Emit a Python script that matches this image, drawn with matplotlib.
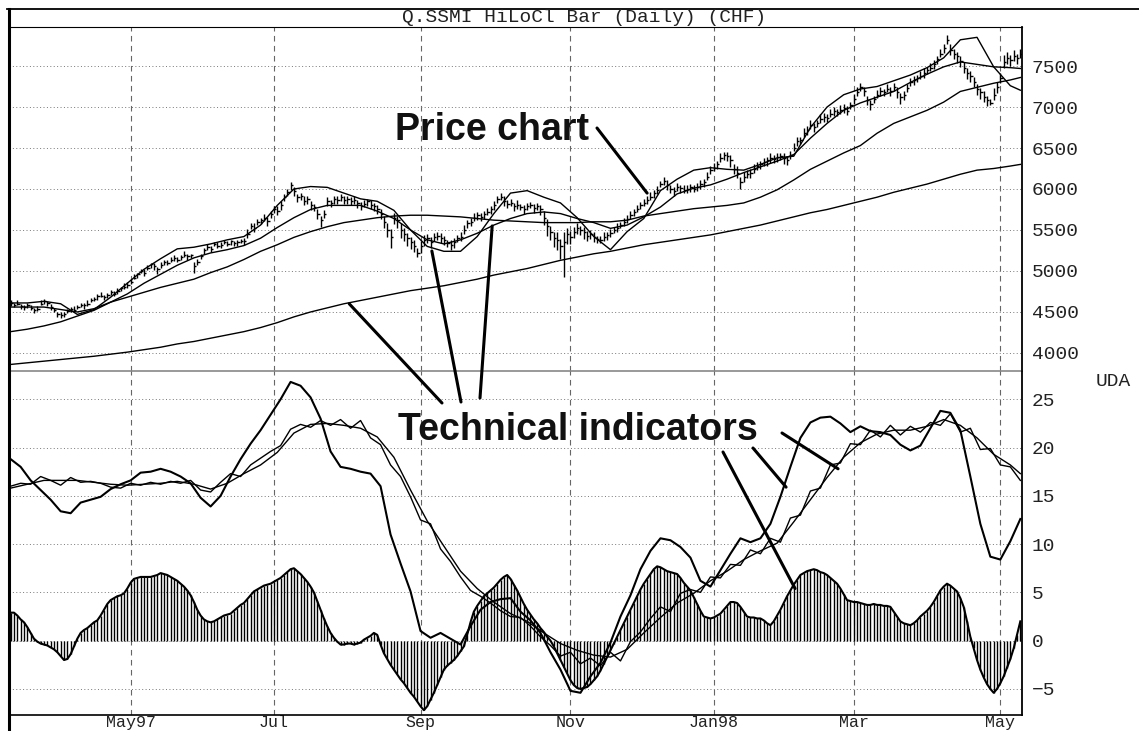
import matplotlib
matplotlib.use('Agg')
import matplotlib.pyplot as plt
from matplotlib.lines import Line2D
from matplotlib.patches import ConnectionPatch
import numpy as np
import pandas as pd

# trading days on the chart
days = pd.bdate_range('1997-03-12', '1998-05-11')
tick_dates = ['1997-05-01', '1997-07-01', '1997-09-01', '1997-11-01',
              '1998-01-01', '1998-03-01', '1998-05-01']
tick_labels = ['May97', 'Jul', 'Sep', 'Nov', 'Jan98', 'Mar', 'May']

# daily close, and distance from close to high / low
close = [4610, 4590, 4600, 4570, 4560, 4580, 4550, 4530, 4540, 4600,
         4630, 4610, 4560, 4520, 4480, 4460, 4470, 4510, 4540, 4530,
         4560, 4590, 4580, 4600, 4640, 4660, 4690, 4700, 4680, 4710,
         4740, 4720, 4760, 4790, 4810, 4830, 4870, 4920, 4960, 5000,
         4980, 5040, 5080, 5060, 5020, 5070, 5110, 5100, 5130, 5160,
         5140, 5170, 5200, 5180, 5190, 5060, 5110, 5180, 5250, 5290,
         5270, 5330, 5310, 5320, 5350, 5330, 5360, 5340, 5350, 5370,
         5360, 5450, 5550, 5530, 5600, 5620, 5650, 5610, 5700, 5750,
         5730, 5800, 5900, 5960, 6050, 5980, 5900, 5920, 5850, 5880,
         5800, 5780, 5700, 5620, 5700, 5850, 5830, 5880, 5860, 5900,
         5870, 5880, 5850, 5870, 5830, 5790, 5820, 5850, 5800, 5790,
         5760, 5700, 5600, 5500, 5420, 5650, 5620, 5500, 5450, 5400,
         5350, 5300, 5220, 5300, 5380, 5400, 5350, 5420, 5430, 5400,
         5380, 5340, 5320, 5350, 5400, 5420, 5500, 5580, 5600, 5650,
         5680, 5660, 5700, 5720, 5750, 5800, 5880, 5900, 5850, 5820,
         5830, 5790, 5800, 5780, 5760, 5790, 5810, 5770, 5790, 5750,
         5650, 5550, 5480, 5400, 5380, 5300, 5350, 5450, 5420, 5480,
         5520, 5500, 5470, 5430, 5450, 5420, 5390, 5380, 5410, 5440,
         5460, 5500, 5530, 5560, 5600, 5640, 5680, 5720, 5760, 5800,
         5830, 5870, 5900, 5950, 5990, 6060, 6100, 6050, 6000, 5980,
         6020, 6010, 5990, 6000, 6020, 6000, 6030, 6060, 6080, 6150,
         6230, 6260, 6300, 6380, 6420, 6400, 6350, 6250, 6200, 6080,
         6150, 6180, 6200, 6250, 6280, 6300, 6330, 6350, 6380, 6370,
         6390, 6400, 6380, 6350, 6420, 6500, 6580, 6600, 6680, 6720,
         6780, 6760, 6800, 6850, 6880, 6870, 6920, 6950, 6940, 6960,
         6990, 6950, 7020, 7100, 7180, 7250, 7200, 7080, 7040, 7100,
         7150, 7200, 7180, 7220, 7200, 7250, 7180, 7120, 7150, 7230,
         7300, 7330, 7350, 7380, 7420, 7450, 7480, 7520, 7580, 7650,
         7720, 7820, 7700, 7650, 7620, 7560, 7480, 7420, 7380, 7300,
         7220, 7180, 7120, 7080, 7050, 7150, 7250, 7350, 7550, 7600,
         7570, 7620, 7600, 7650]
up = [30, 20, 40, 30, 20, 30, 40, 20, 30, 50,
      30, 20, 40, 30, 20, 40, 30, 30, 20, 40,
      30, 20, 30, 40, 30, 20, 30, 40, 30, 20,
      30, 40, 30, 20, 40, 30, 30, 40, 20, 30,
      50, 30, 20, 40, 30, 40, 20, 30, 40, 30,
      30, 20, 40, 30, 20, 50, 40, 30, 30, 40,
      30, 20, 40, 30, 30, 40, 20, 30, 30, 20,
      40, 60, 30, 50, 40, 30, 40, 50, 30, 40,
      60, 50, 40, 40, 40, 50, 40, 30, 60, 40,
      50, 40, 60, 50, 40, 50, 40, 30, 50, 40,
      40, 30, 50, 40, 30, 50, 40, 30, 60, 40,
      50, 60, 70, 80, 90, 60, 50, 80, 70, 60,
      70, 80, 60, 70, 60, 50, 60, 40, 50, 60,
      50, 40, 60, 50, 40, 50, 60, 40, 50, 60,
      40, 50, 30, 50, 40, 50, 40, 50, 60, 40,
      50, 40, 60, 40, 50, 40, 30, 50, 40, 60,
      80, 90, 70, 80, 100, 90, 120, 80, 70, 60,
      60, 50, 70, 60, 50, 60, 40, 50, 60, 40,
      50, 40, 50, 40, 50, 40, 50, 40, 50, 40,
      50, 40, 60, 40, 50, 40, 50, 60, 50, 40,
      50, 40, 60, 50, 40, 50, 40, 50, 40, 60,
      50, 60, 40, 60, 30, 50, 70, 60, 80, 70,
      60, 50, 40, 60, 50, 40, 50, 40, 60, 50,
      50, 40, 60, 50, 40, 60, 50, 40, 60, 50,
      60, 50, 40, 60, 50, 40, 60, 50, 40, 60,
      50, 60, 40, 60, 70, 40, 50, 60, 50, 40,
      60, 50, 40, 60, 50, 40, 60, 50, 40, 50,
      60, 50, 40, 60, 50, 40, 60, 50, 40, 60,
      50, 60, 70, 60, 50, 60, 70, 50, 60, 70,
      60, 50, 70, 60, 50, 80, 60, 70, 80, 70,
      60, 70, 50, 60]
dn = [40, 30, 20, 30, 40, 30, 20, 40, 30, 20,
      30, 40, 30, 20, 40, 30, 30, 20, 40, 30,
      20, 30, 40, 30, 20, 30, 40, 20, 30, 40,
      30, 20, 40, 30, 30, 40, 30, 20, 40, 30,
      40, 30, 40, 50, 60, 30, 40, 30, 20, 40,
      30, 40, 30, 40, 30, 80, 40, 30, 40, 30,
      40, 30, 30, 40, 20, 30, 40, 30, 40, 30,
      40, 50, 40, 60, 40, 50, 40, 60, 50, 40,
      50, 60, 50, 40, 60, 70, 60, 50, 40, 60,
      60, 50, 70, 80, 50, 60, 50, 60, 40, 50,
      50, 60, 40, 50, 60, 50, 40, 60, 50, 60,
      60, 70, 80, 90, 140, 80, 90, 100, 80, 90,
      80, 70, 50, 80, 70, 60, 70, 60, 50, 60,
      60, 50, 60, 70, 50, 60, 50, 60, 50, 40,
      60, 50, 60, 40, 50, 60, 50, 40, 60, 50,
      40, 60, 50, 40, 60, 50, 40, 60, 50, 70,
      90, 120, 100, 110, 130, 150, 420, 120, 90, 80,
      70, 60, 80, 70, 60, 70, 50, 40, 50, 60,
      50, 40, 50, 40, 50, 60, 40, 50, 40, 50,
      40, 50, 40, 60, 50, 40, 50, 60, 50, 70,
      50, 60, 40, 50, 60, 40, 50, 60, 50, 40,
      50, 40, 60, 50, 70, 60, 80, 70, 60, 80,
      60, 50, 70, 60, 50, 60, 50, 70, 60, 50,
      60, 50, 70, 60, 50, 40, 60, 50, 40, 60,
      50, 60, 40, 50, 60, 50, 40, 60, 50, 40,
      60, 50, 40, 60, 50, 60, 70, 60, 80, 50,
      40, 60, 50, 40, 60, 50, 70, 80, 60, 50,
      40, 60, 50, 40, 60, 50, 40, 60, 50, 40,
      60, 50, 70, 60, 80, 70, 60, 80, 70, 60,
      70, 80, 60, 70, 30, 70, 80, 60, 70, 80,
      70, 60, 70, 50]

# price-panel averages, read weekly (every 5th day and the last day)
avg_fast = [4610, 4610, 4630, 4600, 4470, 4530, 4680, 4850, 5020, 5150,
            5270, 5290, 5330, 5380, 5420, 5560, 5800, 6000, 6030, 6020,
            5950, 5880, 5850, 5740, 5500, 5300, 5240, 5240, 5420, 5700,
            5950, 5980, 5900, 5830, 5650, 5420, 5260, 5480, 5640, 5980,
            6120, 6230, 6260, 6240, 6230, 6300, 6380, 6400, 6750, 7000,
            7150, 7220, 7250, 7320, 7390, 7480, 7600, 7820, 7850, 7490,
            7260, 7205]
avg_mid = [4560, 4560, 4560, 4530, 4500, 4540, 4620, 4720, 4850, 4960,
           5070, 5160, 5220, 5260, 5310, 5400, 5530, 5650, 5750, 5800,
           5800, 5800, 5730, 5640, 5500, 5380, 5330, 5380, 5460, 5560,
           5640, 5700, 5720, 5700, 5640, 5590, 5520, 5560, 5660, 5780,
           5940, 6010, 6050, 6120, 6200, 6270, 6340, 6420, 6620, 6800,
           6960, 7050, 7120, 7190, 7300, 7400, 7490, 7550, 7520, 7490,
           7480, 7470]
avg_slow = [4260, 4290, 4330, 4380, 4450, 4520, 4620, 4680, 4740, 4800,
            4850, 4900, 4980, 5050, 5140, 5240, 5320, 5410, 5480, 5540,
            5590, 5620, 5650, 5670, 5680, 5680, 5670, 5660, 5640, 5620,
            5610, 5600, 5590, 5590, 5590, 5600, 5600, 5620, 5670, 5700,
            5730, 5760, 5780, 5800, 5830, 5900, 5990, 6110, 6240, 6340,
            6440, 6530, 6680, 6800, 6880, 6960, 7060, 7190, 7240, 7290,
            7330, 7360]
avg_long = [3860, 3880, 3900, 3920, 3940, 3960, 3985, 4010, 4040, 4070,
            4110, 4140, 4180, 4220, 4260, 4310, 4370, 4440, 4500, 4550,
            4600, 4640, 4680, 4720, 4760, 4790, 4820, 4860, 4900, 4950,
            4990, 5030, 5080, 5130, 5170, 5210, 5240, 5280, 5320, 5350,
            5380, 5410, 5440, 5480, 5520, 5560, 5610, 5660, 5710, 5750,
            5800, 5850, 5900, 5960, 6010, 6060, 6120, 6180, 6230, 6250,
            6280, 6300]

# UDA panel: fast line and jagged line read every 3rd day, signal weekly
uda_fast = [18.8, 18.0, 16.6, 15.6, 14.6, 13.4, 13.2, 14.3, 14.6, 14.9,
            15.7, 16.2, 16.6, 17.4, 17.5, 17.8, 17.5, 17.0, 16.3, 14.8,
            13.9, 15.0, 17.0, 18.8, 20.4, 21.8, 23.4, 25.0, 26.8, 26.4,
            25.2, 23.0, 19.6, 18.0, 17.8, 17.5, 17.3, 16.0, 11.0, 8.0,
            5.1, 1.0, 0.3, 0.8, 0.2, -0.4, 1.5, 3.2, 4.0, 4.3,
            4.4, 3.0, 2.1, 0.8, -1.2, -3.0, -5.2, -5.4, -3.7, -2.3,
            -0.2, 2.5, 4.7, 7.4, 9.3, 10.6, 10.4, 9.7, 8.6, 6.2,
            5.6, 7.3, 9.0, 10.6, 10.2, 10.6, 12.1, 14.9, 18.0, 21.0,
            22.6, 23.1, 23.2, 22.5, 21.6, 22.2, 21.7, 21.6, 21.3, 20.3,
            19.7, 20.2, 22.0, 23.8, 23.6, 21.8, 17.0, 12.1, 8.7, 8.4,
            10.3, 12.6]
uda_signal = [15.8, 16.2, 16.6, 16.6, 16.6, 16.4, 16.2, 16.1, 16.2, 16.3,
              16.5, 16.2, 15.7, 16.3, 17.3, 18.2, 19.5, 21.5, 22.4, 22.5,
              22.3, 22.0, 21.1, 19.0, 15.6, 12.4, 9.8, 7.2, 5.4, 4.0,
              2.8, 2.0, 0.8, -0.3, -1.0, -1.5, -1.7, -0.9, 0.8, 2.4,
              3.9, 4.9, 6.2, 7.2, 8.4, 9.3, 10.1, 12.3, 14.6, 16.9,
              19.0, 20.5, 21.4, 21.8, 21.8, 22.2, 22.9, 22.3, 21.0, 19.3,
              18.2, 17.3]
uda_raw = [16.0, 16.3, 16.2, 17.0, 16.6, 16.1, 16.9, 16.4, 16.5, 16.3,
           15.9, 15.8, 16.3, 16.1, 16.4, 16.2, 16.5, 16.3, 16.6, 15.6,
           15.4, 16.4, 17.3, 17.0, 18.2, 18.9, 19.6, 20.2, 21.9, 22.4,
           22.1, 22.8, 22.3, 22.9, 22.0, 22.8, 21.0, 20.3, 18.2, 17.0,
           14.9, 12.5, 12.1, 9.5, 8.2, 6.6, 5.2, 4.6, 3.9, 3.1,
           2.5, 2.4, 1.5, 0.4, -0.5, -1.6, -1.2, -2.4, -1.8, -2.6,
           -1.2, -2.1, -0.1, 0.9, 2.3, 3.5, 3.0, 4.9, 5.3, 5.0,
           6.6, 6.5, 7.9, 7.8, 9.4, 9.0, 10.6, 10.2, 12.7, 13.0,
           15.5, 15.8, 18.2, 18.4, 20.4, 20.3, 21.8, 21.1, 22.3, 21.3,
           22.2, 21.6, 22.6, 22.3, 23.5, 21.6, 22.0, 19.8, 19.9, 18.2,
           18.0, 16.6]
# daily histogram
uda_hist = [2.9, 2.9, 2.6, 2.2, 1.9, 1.4, 0.8, 0.2, -0.1, -0.3,
            -0.4, -0.5, -0.7, -0.9, -1.2, -1.6, -2.0, -1.9, -1.4, -0.6,
            0.2, 0.8, 1.1, 1.3, 1.6, 1.9, 2.1, 2.6, 3.2, 3.8,
            4.2, 4.4, 4.6, 4.7, 4.9, 5.4, 6.0, 6.4, 6.5, 6.6,
            6.6, 6.6, 6.6, 6.7, 6.8, 7.0, 6.9, 6.8, 6.6, 6.4,
            6.2, 5.9, 5.6, 5.2, 4.7, 4.0, 3.2, 2.6, 2.2, 2.0,
            1.9, 2.0, 2.2, 2.4, 2.6, 2.7, 2.8, 3.1, 3.4, 3.7,
            3.9, 4.3, 4.7, 5.1, 5.3, 5.5, 5.7, 5.8, 5.9, 6.1,
            6.3, 6.5, 6.8, 7.1, 7.4, 7.5, 7.2, 6.9, 6.5, 6.1,
            5.6, 5.0, 4.1, 3.2, 2.3, 1.5, 0.8, 0.3, -0.1, -0.4,
            -0.4, -0.3, -0.3, -0.4, -0.3, -0.2, 0.1, 0.3, 0.5, 0.8,
            0.6, -0.4, -1.3, -1.9, -2.5, -3.0, -3.5, -4.0, -4.4, -4.9,
            -5.4, -5.8, -6.3, -6.8, -7.2, -6.8, -6.1, -5.4, -4.6, -3.8,
            -3.0, -2.6, -2.3, -2.0, -1.6, -1.1, -0.6, 0.6, 1.9, 3.0,
            3.6, 4.1, 4.6, 4.9, 5.2, 5.5, 5.9, 6.3, 6.6, 6.8,
            6.4, 5.8, 5.2, 4.5, 3.8, 3.2, 2.7, 2.2, 1.8, 1.3,
            0.9, 0.4, 0.0, -0.6, -1.3, -2.0, -2.7, -3.4, -4.1, -4.6,
            -4.9, -5.0, -4.9, -4.8, -4.5, -4.1, -3.7, -3.1, -2.4, -1.7,
            -1.0, -0.3, 0.4, 1.1, 1.8, 2.5, 3.2, 3.9, 4.6, 5.3,
            5.9, 6.4, 6.9, 7.4, 7.7, 7.6, 7.4, 7.2, 7.1, 7.0,
            6.9, 6.5, 6.0, 5.6, 5.2, 4.5, 3.8, 3.1, 2.5, 2.4,
            2.3, 2.4, 2.6, 2.8, 3.2, 3.6, 4.0, 4.0, 3.9, 3.5,
            3.0, 2.5, 2.4, 2.4, 2.3, 2.3, 2.1, 1.8, 1.6, 2.0,
            2.6, 3.2, 3.9, 4.6, 5.2, 5.8, 6.3, 6.8, 7.0, 7.2,
            7.3, 7.4, 7.3, 7.1, 7.0, 6.8, 6.5, 6.2, 5.9, 5.4,
            4.8, 4.2, 4.1, 4.0, 4.0, 3.9, 3.8, 3.7, 3.7, 3.8,
            3.7, 3.7, 3.6, 3.6, 3.5, 3.0, 2.5, 2.0, 1.8, 1.7,
            1.6, 1.8, 2.1, 2.5, 2.8, 3.1, 3.5, 4.0, 4.6, 5.2,
            5.6, 5.9, 5.7, 5.4, 5.1, 4.4, 3.5, 2.0, 0.4, -0.8,
            -2.0, -3.0, -3.8, -4.5, -5.0, -5.4, -5.0, -4.4, -3.7, -2.8,
            -1.9, -0.8, 0.6, 2.0]

price_ticks = [4000, 4500, 5000, 5500, 6000, 6500, 7000, 7500]
uda_ticks = [-5, 0, 5, 10, 15, 20, 25]

n = len(close)
x = np.arange(n)
week_x = list(range(0, n - 3, 5)) + [n - 1]
step3_x = list(range(0, n, 3))
hi = np.array(close) + np.array(up)
lo = np.array(close) - np.array(dn)
tick_pos = days.searchsorted(pd.to_datetime(tick_dates))

W, H = 1139, 731
fig = plt.figure(figsize=(W / 100, H / 100), dpi=100)


def fx(px):
    return px / W


def fy(py):
    return 1 - py / H


mono = ['Liberation Mono', 'DejaVu Sans Mono']
ax1 = fig.add_axes([fx(9), fy(371), fx(1022) - fx(9), fy(27) - fy(371)])
ax2 = fig.add_axes([fx(9), fy(715), fx(1022) - fx(9), fy(371) - fy(715)])

for ax in (ax1, ax2):
    ax.patch.set_visible(False)
    ax.set_xlim(-0.5, n - 0.5)
    ax.set_xticks(tick_pos)
    ax.yaxis.tick_right()
    ax.tick_params(length=0, labelsize=14, colors='#222', pad=7)
    ax.grid(axis='y', color='#777', lw=0.7, ls=(0, (1, 2.5)))
    ax.grid(axis='x', color='#666', lw=0.8, ls=(0, (5, 4)))
    ax.spines['left'].set_visible(False)
    ax.spines['right'].set_linewidth(1.3)
    ax.set_axisbelow(True)

ax1.set_xticklabels([])
ax1.spines['bottom'].set_color('#888')
ax1.spines['bottom'].set_linewidth(1.2)
ax2.spines['top'].set_visible(False)
ax2.spines['bottom'].set_linewidth(1.2)

# price panel
ax1.set_ylim(3780, 7976)
ax1.set_yticks(price_ticks)
ax1.set_yticklabels([str(t) for t in price_ticks], family=mono)
ax1.vlines(x, lo, hi, color='black', lw=1.0)
ax1.hlines(close, x, x + 0.7, color='black', lw=1.0)
for series in (avg_fast, avg_mid, avg_slow, avg_long):
    ax1.plot(week_x, series, color='black', lw=1.0)

# indicator panel
ax2.set_ylim(-7.7, 27.93)
ax2.set_yticks(uda_ticks)
ax2.set_yticklabels([str(t).replace('-', '\u2212') for t in uda_ticks], family=mono)
ax2.set_xticklabels(tick_labels, family=mono, fontsize=12)
ax2.tick_params(axis='x', pad=0)
ax2.vlines(x, 0, uda_hist, color='black', lw=1.0)
ax2.plot(x, uda_hist, color='black', lw=1.5)
ax2.plot(week_x, uda_signal, color='black', lw=1.0)
ax2.plot(step3_x, uda_raw, color='black', lw=1.0)
ax2.plot(step3_x, uda_fast, color='black', lw=1.5)

# frame around title band
fig.add_artist(Line2D([fx(7), 1], [fy(9), fy(9)], color='black', lw=1.3))
fig.add_artist(Line2D([fx(8.5), fx(8.5)], [fy(9), 0], color='black', lw=2.2))
fig.text(fx(584), fy(18), 'Q.SSMI HiLoCl Bar (Daily) (CHF)', ha='center',
         va='center', family=mono, fontsize=14, color='#222')
fig.text(fx(1131), fy(381), 'UDA', ha='right', va='center', family=mono,
         fontsize=14, color='#222')

# call-outs
fig.text(fx(395), fy(140), 'Price chart', family='Liberation Sans',
         fontsize=27, fontweight='bold', va='baseline', color='#111')
fig.text(fx(398), fy(440), 'Technical indicators', family='Liberation Sans',
         fontsize=27, fontweight='bold', va='baseline', color='#111')

callouts = [((597, 128), ax1, (191, 5950)),
            ((442, 403), ax1, (101.6, 4600)),
            ((461, 402), ax1, (126.4, 5244)),
            ((480, 398), ax1, (144.5, 5549)),
            ((782, 433), ax2, (248.3, 17.8)),
            ((753, 448), ax2, (232.7, 15.9)),
            ((723, 452), ax2, (235.4, 5.4))]
for (px, py), ax, target in callouts:
    fig.add_artist(ConnectionPatch(xyA=(px, H - py), coordsA='figure pixels',
                                   xyB=target, coordsB='data', axesB=ax,
                                   color='black', lw=2.2))

fig.savefig('out.png', dpi=100)
